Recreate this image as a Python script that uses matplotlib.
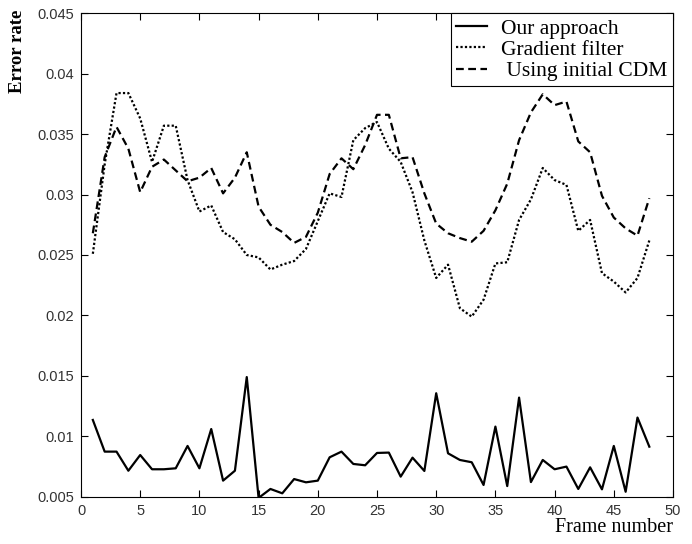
# error rate per frame, three methods
import numpy as np
import matplotlib.pyplot as plt
from matplotlib.ticker import FuncFormatter

frames = np.arange(1, 49)

# Our approach (solid)
our_approach = [0.01135, 0.00873, 0.00873, 0.00715, 0.00845, 0.00727, 0.00727, 0.00735,
                0.0092, 0.00735, 0.0106, 0.00633, 0.00715, 0.0149, 0.0049, 0.00564,
                0.00528, 0.00646, 0.00619, 0.00633, 0.00826, 0.00873, 0.00771, 0.0076,
                0.00862, 0.00865, 0.00666, 0.00823, 0.00713, 0.01356, 0.00859, 0.00804,
                0.00785, 0.00597, 0.0108, 0.00588, 0.0132, 0.00621, 0.00804, 0.00727,
                0.00749, 0.00564, 0.00743, 0.00561, 0.0092, 0.00541, 0.01155, 0.00914]

# Gradient filter (dotted)
gradient_filter = [0.0251, 0.0325, 0.0384, 0.0384, 0.0363, 0.0327, 0.0357, 0.0357,
                   0.0312, 0.0286, 0.0291, 0.0269, 0.0263, 0.025, 0.0248, 0.0238,
                   0.0242, 0.0245, 0.0255, 0.0278, 0.0301, 0.0298, 0.0345, 0.0355,
                   0.036, 0.0338, 0.0327, 0.0302, 0.0262, 0.0231, 0.0242, 0.0206,
                   0.0199, 0.0213, 0.0243, 0.0244, 0.0279, 0.0296, 0.0322, 0.0312,
                   0.0308, 0.027, 0.0279, 0.0235, 0.0228, 0.0219, 0.0231, 0.0262]

# Using initial CDM (dashed)
initial_cdm = [0.0268, 0.0331, 0.0356, 0.0338, 0.0302, 0.0323, 0.0329, 0.032,
               0.0311, 0.0314, 0.0322, 0.0301, 0.0314, 0.0335, 0.029, 0.0275,
               0.0269, 0.026, 0.0265, 0.0285, 0.0317, 0.033, 0.0321, 0.0341,
               0.0366, 0.0366, 0.033, 0.0331, 0.0301, 0.0276, 0.0268, 0.0264,
               0.0261, 0.027, 0.0287, 0.0309, 0.0345, 0.0368, 0.0383, 0.0374,
               0.0377, 0.0344, 0.0335, 0.0299, 0.0281, 0.0272, 0.0266, 0.0297]

labels = ['Our approach', 'Gradient filter', ' Using initial CDM']

serif = 'Liberation Serif'
sans = 'Liberation Sans'

fig = plt.figure(figsize=(6.92, 5.44), dpi=100)
ax = fig.add_axes([81/692, 1 - 496.7/544, 592/692, 483.4/544])

ax.plot(frames, our_approach, color='k', lw=1.6, label=labels[0])
ax.plot(frames, gradient_filter, color='k', lw=1.6, linestyle=(0, (1, 1)), label=labels[1])
ax.plot(frames, initial_cdm, color='k', lw=1.6, linestyle=(0, (3.5, 2)), label=labels[2])

ax.set_xlim(0, 50)
ax.set_ylim(0.005, 0.045)
ax.set_xticks(np.arange(0, 51, 5))
ax.set_yticks(np.arange(0.005, 0.0451, 0.005))
ax.yaxis.set_major_formatter(FuncFormatter(lambda v, p: '%g' % round(v, 3)))
ax.tick_params(direction='in', length=5, top=True, right=True, width=0.8,
               labelsize=10.5, pad=5)
for lab in ax.get_xticklabels() + ax.get_yticklabels():
    lab.set_family(sans)
    lab.set_color('#333333')
for sp in ax.spines.values():
    sp.set_linewidth(0.8)

# legend box flush with the top right corner
leg = ax.legend(loc='upper right', borderaxespad=0, fancybox=False,
                edgecolor='k', framealpha=1, handlelength=1.45,
                prop={'family': serif, 'size': 15.5}, labelspacing=0.05,
                borderpad=0.25, handletextpad=0.65)
leg.get_frame().set_linewidth(0.8)

fig.text(18/692, 1 - 10/544, 'Error rate', rotation=90, va='top', ha='center',
         family=serif, fontsize=13.5, fontweight='bold')
fig.text(673/692, 1 - 528/544, 'Frame number', ha='right', va='center',
         family=serif, fontsize=14.5)

plt.savefig('out.png', dpi=100)
